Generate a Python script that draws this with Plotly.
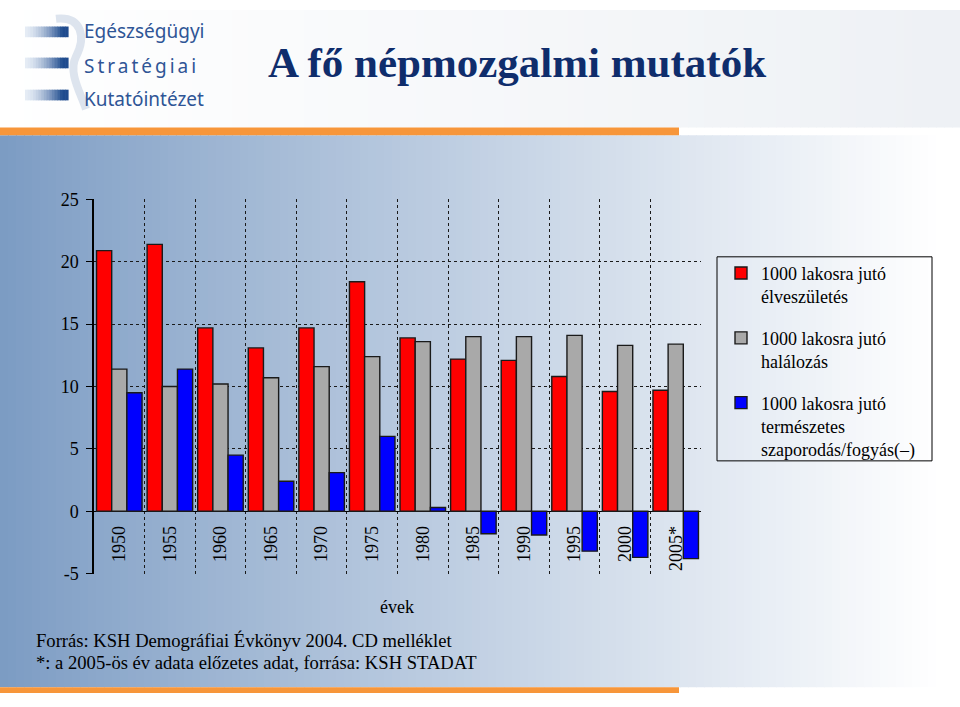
import plotly.graph_objects as go

# --------------------------------------------------------------------------- #
# Data (per 1000 inhabitants)
# --------------------------------------------------------------------------- #
years = ["1950", "1955", "1960", "1965", "1970", "1975",
         "1980", "1985", "1990", "1995", "2000", "2005*"]
births = [20.9, 21.4, 14.7, 13.1, 14.7, 18.4, 13.9, 12.2, 12.1, 10.8, 9.6, 9.7]
deaths = [11.4, 10.0, 10.2, 10.7, 11.6, 12.4, 13.6, 14.0, 14.0, 14.1, 13.3, 13.4]
natural = [9.5, 11.4, 4.5, 2.4, 3.1, 6.0, 0.3, -1.8, -1.9, -3.2, -3.7, -3.8]
y_ticks = [-5, 0, 5, 10, 15, 20, 25]
y_tick_labels = ["-5", "0", "5", "10", "15", "20", "25"]

names = [
    "1000 lakosra jutó<br>élveszületés",
    "1000 lakosra jutó<br>halálozás",
    "1000 lakosra jutó<br>természetes<br>szaporodás/fogyás(–)",
]

# --------------------------------------------------------------------------- #
# Style
# --------------------------------------------------------------------------- #
W, H = 960, 707
SERIF = "Liberation Serif"
SANS = "Noto Sans"
RED, GRAY, BLUE = "#FF0000", "#A9A9A9", "#0000FF"
EDGE = "#1a1a1a"
ORANGE = "#F7963A"
NAVY = "#0f2d6c"
LOGO_BLUE = "#2f5596"


def px(x):
    return x / W


def py(y):
    return 1 - y / H


def mix(c1, c2, t):
    a = [int(c1[i:i + 2], 16) for i in (1, 3, 5)]
    b = [int(c2[i:i + 2], 16) for i in (1, 3, 5)]
    return "rgb({},{},{})".format(*[round(a[k] + (b[k] - a[k]) * t) for k in range(3)])


def rect(x0, y0, x1, y1, color):
    return dict(type="rect", xref="paper", yref="paper", layer="below",
                x0=px(x0), x1=px(x1), y0=py(y1), y1=py(y0),
                fillcolor=color, line=dict(width=0))


# --------------------------------------------------------------------------- #
# Background decoration (slide look)
# --------------------------------------------------------------------------- #
shapes = []
step = 8
for x0 in range(0, W, step):
    t = min(1.0, (x0 + step / 2) / 940)
    shapes.append(rect(x0, 0, x0 + step + 1, 121, mix("#ffffff", "#eef1f5", t)))
    shapes.append(rect(x0, 129, x0 + step + 1, 697, mix("#7b9bc3", "#ffffff", t ** 0.92)))
shapes.append(rect(0, 121, 679, 129, ORANGE))
shapes.append(rect(0, 697, 679, 703, ORANGE))

# logo: gradient bars + pale S
for top in (17, 49, 82):
    n = 16
    for i in range(n):
        t = (i + 0.5) / n
        xa = 25 + (68 - 25) * i / n
        shapes.append(rect(xa, top, xa + (68 - 25) / n + 0.6, top + 11,
                           mix("#e6edf6", "#1f4b8e", min(1.0, t ** 1.6 * 1.25))))
s_path = "M {},{} C {},{} {},{} {},{} C {},{} {},{} {},{}".format(
    px(56), py(9), px(82), py(6), px(86), py(28), px(76), py(48),
    px(68), py(64), px(80), py(84), px(86), py(102))
shapes.append(dict(type="path", xref="paper", yref="paper", layer="below",
                   path=s_path, line=dict(color="#dde4ee", width=8)))

# legend frame
shapes.append(dict(type="rect", xref="paper", yref="paper",
                   x0=px(717), x1=px(932), y0=py(464), y1=py(254),
                   line=dict(color="black", width=1)))

# --------------------------------------------------------------------------- #
# Chart
# --------------------------------------------------------------------------- #
fig = go.Figure()
for vals, name, color, grp in ((births, names[0], RED, "a"),
                               (deaths, names[1], GRAY, "b"),
                               (natural, names[2], BLUE, "c")):
    fig.add_trace(go.Bar(
        x=years, y=vals, name=name, legendgroup=grp,
        marker=dict(color=color, line=dict(color=EDGE, width=1.4)),
    ))

annotations = [
    dict(text="<b>A fő népmozgalmi mutatók</b>", x=px(517), y=py(54),
         font=dict(family=SERIF, size=43, color=NAVY)),
    dict(text="Egészségügyi", x=px(82), y=py(22), xanchor="left",
         font=dict(family=SANS, size=19, color=LOGO_BLUE)),
    dict(text='<span style="letter-spacing:3px">Stratégiai</span>', x=px(82), y=py(58),
         xanchor="left", font=dict(family=SANS, size=19, color=LOGO_BLUE)),
    dict(text="Kutatóintézet", x=px(82), y=py(92), xanchor="left",
         font=dict(family=SANS, size=19, color=LOGO_BLUE)),
    dict(text="évek", x=px(397), y=py(614),
         font=dict(family=SERIF, size=18, color="black")),
    dict(text="Forrás: KSH Demográfiai Évkönyv 2004. CD melléklet",
         x=px(34), y=py(649), xanchor="left",
         font=dict(family=SERIF, size=18.6, color="black")),
    dict(text="*: a 2005-ös év adata előzetes adat, forrása: KSH STADAT",
         x=px(34), y=py(672), xanchor="left",
         font=dict(family=SERIF, size=18.6, color="black")),
]
for a in annotations:
    a.update(xref="paper", yref="paper", showarrow=False)
    a.setdefault("xanchor", "center")
    a.setdefault("yanchor", "middle")

fig.update_layout(
    width=W, height=H,
    margin=dict(l=0, r=0, t=0, b=0),
    paper_bgcolor="white",
    plot_bgcolor="rgba(0,0,0,0)",
    font=dict(family=SERIF, color="black"),
    barmode="group", bargap=0.1, bargroupgap=0,
    shapes=shapes,
    annotations=annotations,
    legend=dict(
        x=px(721), y=py(252), xanchor="left", yanchor="top",
        borderwidth=0, bgcolor="rgba(0,0,0,0)",
        font=dict(family=SERIF, size=18, color="black"),
        tracegroupgap=15, valign="top",
    ),
    xaxis=dict(
        domain=[px(94), px(701)], type="category",
        anchor="free", position=py(516),
        tickson="boundaries", showgrid=True, gridcolor=EDGE,
        griddash="dot", gridwidth=1,
        tickangle=-90, ticks="", showline=False, ticklabelstandoff=10,
        tickfont=dict(family=SERIF, size=18, color="black"),
    ),
    yaxis=dict(
        domain=[py(580), py(195)], range=[-5, 25],
        tickvals=y_ticks, ticktext=y_tick_labels,
        ticks="outside", ticklen=6, tickcolor="black",
        showline=True, linecolor="black", linewidth=1.5,
        showgrid=True, gridcolor=EDGE, griddash="dot", gridwidth=1,
        zeroline=True, zerolinecolor="black", zerolinewidth=1,
        ticklabelstandoff=4,
        tickfont=dict(family=SERIF, size=18, color="black"),
    ),
)

# pin the figure to the top-left corner and keep the page exactly one screen
pin = (
    "var de=document.documentElement,b=document.body;"
    "de.style.margin=b.style.margin='0';de.style.padding=b.style.padding='0';"
    "de.style.overflow=b.style.overflow='hidden';"
    "de.style.width=b.style.width='960px';de.style.height=b.style.height='707px';"
    "var gd=document.getElementById('{plot_id}');"
    "gd.style.position='absolute';gd.style.left='0px';gd.style.top='0px';"
)
fig.write_html("out.html", config={"displayModeBar": False}, post_script=pin)
